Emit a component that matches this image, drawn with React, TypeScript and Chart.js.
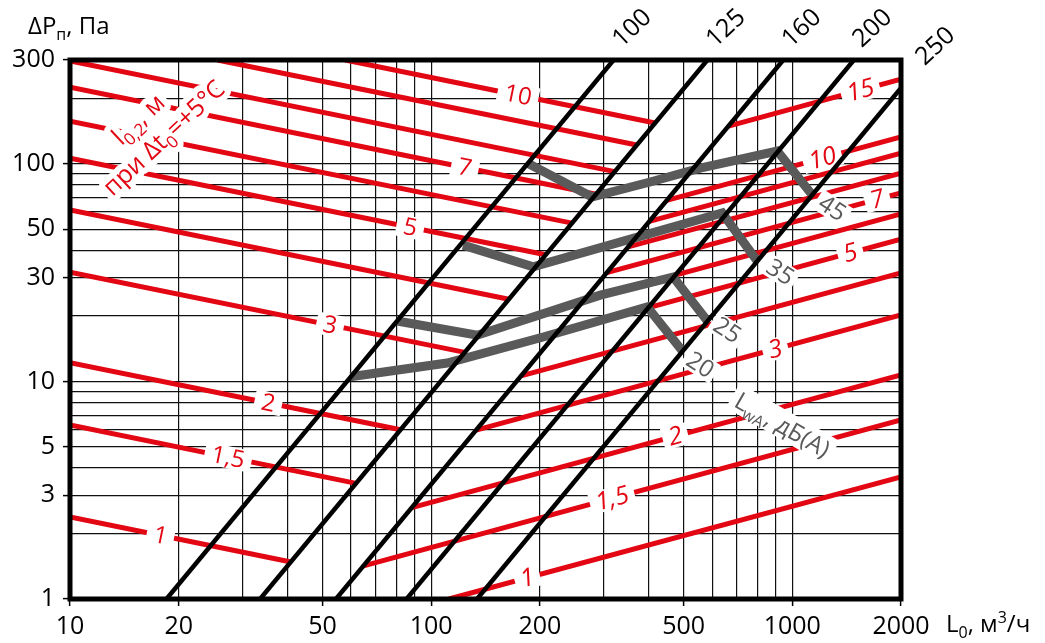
import React, { useEffect, useRef } from 'react';
import { Chart, registerables } from 'chart.js';

Chart.register(...registerables);

const FONT = '"Open Sans", "Noto Sans", "DejaVu Sans", sans-serif';
const RED = '#e30613';
const GRAY = '#5a5a5a';
const INK = '#000000';
const deg = Math.PI / 180;

// ---- axes ----
const xRange = [10, 2000];
const yRange = [1, 300];
const xGridValues = [10, 20, 30, 40, 50, 60, 70, 80, 90, 100, 200, 300, 400, 500, 600, 700, 800, 900, 1000, 2000];
const yGridValues = [1, 2, 3, 4, 5, 6, 7, 8, 9, 10, 20, 30, 40, 50, 60, 70, 80, 90, 100, 200, 300];
const xTickLabels = [10, 20, 50, 100, 200, 500, 1000, 2000];
const yTickLabels = [1, 3, 5, 10, 30, 50, 100, 300];

// ---- duct sizes (black lines), [L, ΔP] ----
const ductNames = ['100', '125', '160', '200', '250'];
const ductStart = [[18.5, 1], [33.6, 1], [54.5, 1], [85.5, 1], [134, 1]];
const ductEnd = [[320, 300], [582, 300], [944, 300], [1481, 300], [2000, 223]];

// ---- throw l0,2 lines, left family (red) ----
const leftNames = ['10', '', '', '7', '', '5', '', '3', '2', '1,5', '1'];
const leftStart = [[57.8, 300], [25.6, 300], [10, 297], [10, 225], [10, 157], [10, 106], [10, 61.3], [10, 31.8], [10, 12.2], [10, 6.3], [10, 2.38]];
const leftEnd = [[417, 154], [371, 122], [322.5, 92.1], [286, 72.5], [245.5, 53.4], [207.6, 38.2], [164.1, 23.85], [124, 13.6], [82.3, 6.0], [62, 3.4], [40.9, 1.48]];
const leftLabelAt = [174, 0, 0, 124, 0, 87.5, 0, 52.5, 35.4, 27.4, 17.8];

// ---- throw l0,2 lines, right family (red) ----
const rightNames = ['15', '10', '', '', '7', '', '5', '', '3', '2', '1,5', '1'];
const rightStart = [[666, 149], [449, 67.9], [402, 54.4], [351, 41.5], [306.4, 31.6], [265.3, 23.7], [223.6, 16.8], [177.4, 10.6], [133.2, 5.97], [88.4, 2.63], [65, 1.42], [112, 1]];
const rightEnd = [[2000, 245], [2000, 133], [2000, 112], [2000, 90.7], [2000, 73.5], [2000, 58.8], [2000, 45.1], [2000, 31.5], [2000, 20.2], [2000, 10.7], [2000, 6.65], [2000, 3.64]];
const rightLabelAt = [1543, 1211, 0, 0, 1720, 0, 1448, 0, 897, 474, 317, 184.5];

// ---- noise LwA, dB(A) (gray) ----
const noiseNames = ['20', '25', '35', '45'];
const noise20 = [[59.7, 10.5], [110.7, 12.15], [204.3, 16.0], [396.7, 22.0], [498.9, 13.65]];
const noise25 = [[80.5, 18.95], [134.1, 16.3], [293.9, 24.9], [468, 30.2], [585, 18.75]];
const noise35 = [[122.6, 42.3], [191.6, 33.6], [640, 59.4], [800, 35.7]];
const noise45 = [[184.5, 100.9], [279, 70.4], [404, 82.5], [556, 95.6], [908.7, 114.5], [1136, 71.9]];
const noiseLabelAt = [[556, 11.9], [660.7, 17.2], [926.5, 31.8], [1291, 62.6]];
const noiseUnitAt = [938, 6.3];
const throwNoteAt = [17.42, 135.6];

type Part = { t: string; k?: 'sub' | 'sup' };

function partFont(p: Part, size: number, style = '') {
  return `${style}${p.k ? Math.round(size * 0.68) : size}px ${FONT}`;
}
function partsWidth(ctx: any, parts: Part[], size: number, style = '') {
  let w = 0;
  for (const p of parts) {
    ctx.font = partFont(p, size, style);
    w += ctx.measureText(p.t).width;
  }
  return w;
}
function partsDraw(ctx: any, parts: Part[], x: number, y: number, size: number, stroke = false, style = '') {
  let cx = x;
  for (const p of parts) {
    ctx.font = partFont(p, size, style);
    const dy = p.k === 'sub' ? size * 0.25 : p.k === 'sup' ? -size * 0.38 : 0;
    if (stroke) ctx.strokeText(p.t, cx, y + dy);
    else ctx.fillText(p.t, cx, y + dy);
    cx += ctx.measureText(p.t).width;
  }
}
function boxedText(ctx: any, text: string, x: number, y: number, ang: number, font: string, color: string, padX: number, boxH: number) {
  ctx.save();
  ctx.translate(x, y);
  ctx.rotate(ang);
  ctx.font = font;
  const w = ctx.measureText(text).width;
  ctx.fillStyle = '#ffffff';
  ctx.fillRect(-w / 2 - padX, -boxH / 2, w + 2 * padX, boxH);
  ctx.fillStyle = color;
  ctx.textAlign = 'center';
  ctx.textBaseline = 'middle';
  ctx.fillText(text, 0, 1);
  ctx.restore();
}

function drawLabels(chart: any) {
  const ctx = chart.ctx;
  const xs = chart.scales.x;
  const ys = chart.scales.y;
  const X = (v: number) => xs.getPixelForValue(v);
  const Y = (v: number) => ys.getPixelForValue(v);
  const along = (s: number[], e: number[], L: number) => {
    const t = Math.log(L / s[0]) / Math.log(e[0] / s[0]);
    const P = s[1] * Math.pow(e[1] / s[1], t);
    return { x: X(L), y: Y(P), ang: Math.atan2(Y(e[1]) - Y(s[1]), X(e[0]) - X(s[0])) };
  };
  leftNames.forEach((n, i) => {
    if (!n) return;
    const p = along(leftStart[i], leftEnd[i], leftLabelAt[i]);
    boxedText(ctx, n, p.x, p.y, p.ang, `24px ${FONT}`, RED, 7, 22);
  });
  rightNames.forEach((n, i) => {
    if (!n) return;
    const p = along(rightStart[i], rightEnd[i], rightLabelAt[i]);
    boxedText(ctx, n, p.x, p.y, p.ang, `italic 25px ${FONT}`, RED, 6, 22);
  });
  noiseNames.forEach((n, i) => {
    const [L, P] = noiseLabelAt[i];
    boxedText(ctx, n, X(L), Y(P), 33 * deg, `24px ${FONT}`, GRAY, 4, 22);
  });
  // LwA, дБ(А)
  {
    const parts: Part[] = [{ t: 'L' }, { t: 'wA', k: 'sub' }, { t: ', дБ(А)' }];
    ctx.save();
    ctx.translate(X(noiseUnitAt[0]), Y(noiseUnitAt[1]));
    ctx.rotate(30 * deg);
    const w = partsWidth(ctx, parts, 24);
    ctx.fillStyle = '#ffffff';
    ctx.fillRect(-w / 2 - 5, -15, w + 10, 28);
    ctx.fillStyle = GRAY;
    ctx.textAlign = 'left';
    ctx.textBaseline = 'alphabetic';
    partsDraw(ctx, parts, -w / 2, 8, 24);
    ctx.restore();
  }
  // l0,2, м при Δt0=+5°C
  {
    const l1: Part[] = [{ t: 'l' }, { t: '0,2', k: 'sub' }, { t: ', м' }];
    const l2: Part[] = [{ t: 'при Δt' }, { t: '0', k: 'sub' }, { t: '=+5°C' }];
    ctx.save();
    ctx.translate(X(throwNoteAt[0]), Y(throwNoteAt[1]));
    ctx.rotate(-43 * deg);
    ctx.textAlign = 'left';
    ctx.textBaseline = 'alphabetic';
    const w1 = partsWidth(ctx, l1, 25);
    const w2 = partsWidth(ctx, l2, 25);
    ctx.strokeStyle = '#ffffff';
    ctx.lineWidth = 12;
    ctx.lineJoin = 'round';
    partsDraw(ctx, l1, -3 - w1 / 2, -16, 25, true);
    partsDraw(ctx, l2, 3 - w2 / 2, 15, 25, true);
    ctx.fillStyle = RED;
    partsDraw(ctx, l1, -3 - w1 / 2, -16, 25);
    partsDraw(ctx, l2, 3 - w2 / 2, 15, 25);
    ctx.restore();
  }
}

function drawFrame(chart: any) {
  const ctx = chart.ctx;
  const a = chart.chartArea;
  const xs = chart.scales.x;
  const ys = chart.scales.y;
  const X = (v: number) => xs.getPixelForValue(v);
  const Y = (v: number) => ys.getPixelForValue(v);
  ctx.save();
  ctx.strokeStyle = INK;
  ctx.lineWidth = 5;
  ctx.strokeRect(a.left, a.top, a.right - a.left, a.bottom - a.top);
  ctx.fillStyle = INK;
  ctx.font = `25px ${FONT}`;
  ctx.textAlign = 'left';
  ctx.textBaseline = 'middle';
  ductNames.forEach((n, i) => {
    const e = ductEnd[i];
    const atTop = e[1] >= yRange[1];
    const x = X(e[0]) + (atTop ? 3 : 19);
    const y = Y(e[1]) + (atTop ? -17 : -27);
    ctx.save();
    ctx.translate(x, y);
    ctx.rotate(-43 * deg);
    ctx.fillText(n, 0, 0);
    ctx.restore();
  });
  ctx.textBaseline = 'alphabetic';
  partsDraw(ctx, [{ t: 'ΔP' }, { t: 'п', k: 'sub' }, { t: ', Па' }], a.left - 42, a.top - 26, 24);
  partsDraw(ctx, [{ t: 'L' }, { t: '0', k: 'sub' }, { t: ', м' }, { t: '3', k: 'sup' }, { t: '/ч' }], a.right + 45, a.bottom + 33, 24);
  ctx.restore();
}

const overlayPlugin = {
  id: 'overlay',
  beforeDatasetDraw(chart: any, args: any) {
    if (args.index === ductNames.length - 1) drawLabels(chart);
  },
  afterDraw(chart: any) {
    drawFrame(chart);
  },
};

export default function App() {
  const ref = useRef<HTMLCanvasElement>(null);
  useEffect(() => {
    const toPts = (arr: number[][]) => arr.map(([x, y]) => ({ x, y }));
    const base = {
      pointRadius: 0,
      pointHoverRadius: 0,
      fill: false,
      tension: 0,
      borderCapStyle: 'butt',
      borderJoinStyle: 'miter',
    };
    const datasets: any[] = [
      ...ductNames.map((n, i) => ({ ...base, label: 'Ø' + n, data: toPts([ductStart[i], ductEnd[i]]), borderColor: INK, borderWidth: 4.5, order: 0 })),
      ...[noise20, noise25, noise35, noise45].map((arr, i) => ({ ...base, label: 'LwA ' + noiseNames[i], data: toPts(arr), borderColor: GRAY, borderWidth: 9, order: 1 })),
      ...leftNames.map((n, i) => ({ ...base, label: 'l02 L ' + n, data: toPts([leftStart[i], leftEnd[i]]), borderColor: RED, borderWidth: 5, order: 2 })),
      ...rightNames.map((n, i) => ({ ...base, label: 'l02 R ' + n, data: toPts([rightStart[i], rightEnd[i]]), borderColor: RED, borderWidth: 5, order: 2 })),
    ];
    const gridOpts = (labels: number[]) => ({
      color: '#111111',
      lineWidth: 1.2,
      tickLength: 7,
      tickWidth: 1.5,
      tickColor: (c: any) => (c.tick && labels.includes(c.tick.value) ? INK : 'rgba(0,0,0,0)'),
    });
    const chart = new Chart(ref.current as HTMLCanvasElement, {
      type: 'line',
      data: { datasets },
      options: {
        responsive: false,
        animation: false,
        devicePixelRatio: 1,
        events: [],
        layout: { padding: { top: 60, right: 144, left: 0, bottom: 0 } },
        plugins: { legend: { display: false }, tooltip: { enabled: false }, title: { display: false } },
        scales: {
          x: {
            type: 'logarithmic',
            min: xRange[0],
            max: xRange[1],
            afterBuildTicks: (s: any) => { s.ticks = xGridValues.map((v) => ({ value: v })); },
            afterFit: (s: any) => { s.height = 44; },
            border: { display: false },
            grid: gridOpts(xTickLabels),
            ticks: {
              autoSkip: false,
              maxRotation: 0,
              minRotation: 0,
              padding: 6,
              color: INK,
              font: { family: FONT, size: 25 },
              callback: (v: any) => (xTickLabels.includes(Number(v)) ? String(v) : ''),
            },
          },
          y: {
            type: 'logarithmic',
            min: yRange[0],
            max: yRange[1],
            afterBuildTicks: (s: any) => { s.ticks = yGridValues.map((v) => ({ value: v })); },
            afterFit: (s: any) => { s.width = 70; },
            border: { display: false },
            grid: gridOpts(yTickLabels),
            ticks: {
              autoSkip: false,
              padding: 8,
              color: INK,
              font: { family: FONT, size: 25 },
              callback: (v: any) => (yTickLabels.includes(Number(v)) ? String(v) : ''),
            },
          },
        },
      } as any,
      plugins: [overlayPlugin as any],
    });
    return () => chart.destroy();
  }, []);
  return (
    <div style={{ position: 'absolute', left: 0, top: 0, width: 1045, height: 643, background: '#ffffff' }}>
      <canvas ref={ref} width={1045} height={643} style={{ display: 'block' }} />
    </div>
  );
}
